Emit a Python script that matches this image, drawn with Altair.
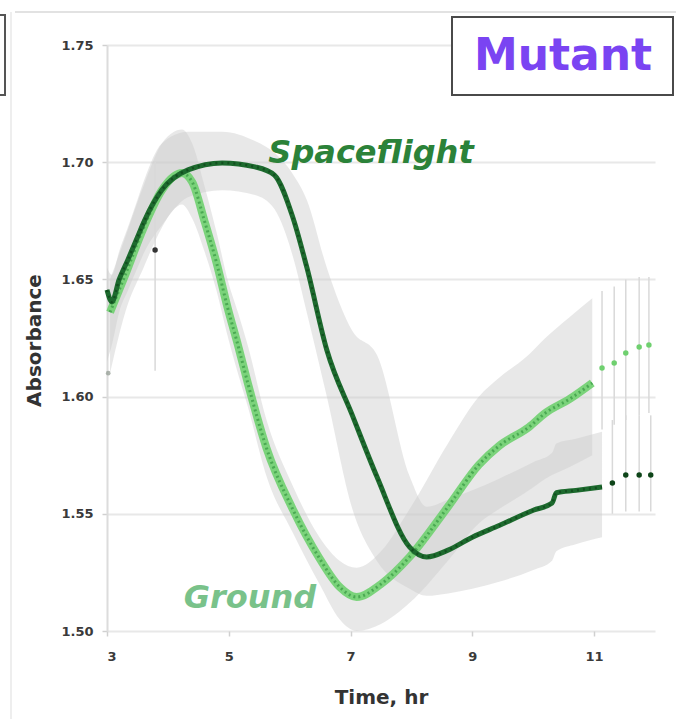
import altair as alt
import pandas as pd

# Spaceflight culture: time (hr), mean absorbance and the spread of replicates
sf_time = [3.00, 3.08, 3.20, 3.34, 3.50, 3.62, 3.90, 4.33, 4.89, 5.43, 5.75, 6.05, 6.28,
           6.61, 7.03, 7.43, 7.97, 8.25, 8.60, 9.00, 9.44, 10.00, 10.31, 10.38, 10.70, 11.13]
sf_mean = [1.6455, 1.6404, 1.650, 1.6582, 1.668, 1.6753, 1.6881, 1.6967, 1.6997, 1.698, 1.6945,
           1.6766, 1.6553, 1.6199, 1.592, 1.566, 1.5358, 1.5316, 1.5345, 1.540, 1.545, 1.5515,
           1.5546, 1.559, 1.560, 1.5614]
sf_hi = [1.655, 1.652, 1.662, 1.672, 1.684, 1.693, 1.708, 1.713, 1.713, 1.709, 1.704, 1.695, 1.684,
         1.655, 1.628, 1.618, 1.566, 1.553, 1.556, 1.560, 1.565, 1.572, 1.576, 1.580, 1.582, 1.585]
sf_lo = [1.615, 1.622, 1.636, 1.645, 1.655, 1.662, 1.673, 1.685, 1.688, 1.686, 1.680, 1.660, 1.636,
         1.600, 1.552, 1.530, 1.518, 1.515, 1.516, 1.518, 1.521, 1.526, 1.530, 1.534, 1.537, 1.540]

# Late spaceflight readings (sparse) with their error bars
sf_tail_time = [11.30, 11.52, 11.74, 11.93]
sf_tail_mean = [1.5631, 1.5666, 1.5666, 1.5666]
sf_tail_lo = [1.550, 1.551, 1.551, 1.551]
sf_tail_hi = [1.590, 1.592, 1.592, 1.592]

# Single off-curve spaceflight reading
sf_odd_time = [3.79]
sf_odd_mean = [1.6625]
sf_odd_lo = [1.611]
sf_odd_hi = [1.700]

# Ground culture
gr_time = [3.05, 3.30, 3.60, 3.90, 4.10, 4.23, 4.40, 4.60, 4.80, 4.98, 5.15, 5.31, 5.62,
           6.05, 6.49, 6.82, 7.10, 7.50, 7.97, 8.60, 9.11, 9.44, 9.93, 10.20, 10.60, 10.97]
gr_mean = [1.636, 1.652, 1.672, 1.688, 1.694, 1.6954, 1.6915, 1.675, 1.657, 1.638, 1.622, 1.606,
           1.578, 1.552, 1.531, 1.5188, 1.5145, 1.520, 1.5316, 1.553, 1.571, 1.579, 1.587,
           1.593, 1.599, 1.6058]
gr_hi = [1.650, 1.668, 1.690, 1.708, 1.713, 1.714, 1.708, 1.690, 1.670, 1.650, 1.636, 1.622, 1.590,
         1.562, 1.540, 1.530, 1.527, 1.534, 1.552, 1.580, 1.600, 1.608, 1.618, 1.625, 1.634, 1.642]
gr_lo = [1.610, 1.636, 1.655, 1.672, 1.680, 1.682, 1.676, 1.662, 1.645, 1.626, 1.610, 1.596, 1.566,
         1.542, 1.520, 1.505, 1.500, 1.503, 1.512, 1.530, 1.546, 1.552, 1.560, 1.565, 1.570, 1.575]

gr_tail_time = [11.13, 11.33, 11.52, 11.74, 11.90]
gr_tail_mean = [1.6122, 1.6143, 1.6186, 1.6212, 1.6220]
gr_tail_lo = [1.586, 1.588, 1.590, 1.592, 1.593]
gr_tail_hi = [1.645, 1.647, 1.650, 1.651, 1.651]

gr_first_time = [3.02]
gr_first_mean = [1.610]

x_ticks = [3, 5, 7, 9, 11]
y_ticks = [1.50, 1.55, 1.60, 1.65, 1.70, 1.75]

series_labels = ["Spaceflight", "Ground"]
panel_label = "Mutant"

DARK = "#1d6a2e"
DARK_DOT = "#0e4519"
LIGHT = "#6fd06f"
LIGHT_DOT = "#3f9f49"
BAND = "#cccccc"
FONT = "DejaVu Sans"


def frame(t, m, lo=None, hi=None):
    d = {"t": t, "m": m}
    if lo is not None:
        d["lo"] = lo
        d["hi"] = hi
    return pd.DataFrame(d)


sf = frame(sf_time, sf_mean, sf_lo, sf_hi)
gr = frame(gr_time, gr_mean, gr_lo, gr_hi)
sf_tail = frame(sf_tail_time, sf_tail_mean, sf_tail_lo, sf_tail_hi)
gr_tail = frame(gr_tail_time, gr_tail_mean, gr_tail_lo, gr_tail_hi)
sf_odd = frame(sf_odd_time, sf_odd_mean, sf_odd_lo, sf_odd_hi)
gr_first = frame(gr_first_time, gr_first_mean)

x_enc = alt.X("t:Q", scale=alt.Scale(domain=[3, 12], nice=False, zero=False),
              axis=alt.Axis(values=x_ticks, format="d", title="Time, hr", titleY=66,
                            titleBaseline="middle", grid=False))
y_enc = alt.Y("m:Q", scale=alt.Scale(domain=[1.50, 1.75], nice=False, zero=False),
              axis=alt.Axis(values=y_ticks, format=".2f", title="Absorbance",
                            titleX=-73, titleY=295, titleAlign="center",
                            titleBaseline="middle", titleAngle=-90))

# Replicate spread
sf_band = alt.Chart(sf).mark_area(color=BAND, opacity=0.45, interpolate="monotone").encode(
    x=x_enc, y=alt.Y("lo:Q"), y2="hi:Q")
gr_band = alt.Chart(gr).mark_area(color=BAND, opacity=0.45, interpolate="monotone").encode(
    x="t:Q", y="lo:Q", y2="hi:Q")

# Error bars on the sparse readings
bars = alt.layer(
    *[alt.Chart(d).mark_rule(color="#d9d9d9", strokeWidth=1.5).encode(x="t:Q", y="lo:Q", y2="hi:Q")
      for d in (sf_tail, gr_tail, sf_odd)]
)

# Ground curve: wide pale stroke with a darker dotted core
gr_line = alt.Chart(gr).mark_line(color=LIGHT, strokeWidth=8, opacity=0.9,
                                  interpolate="monotone").encode(x="t:Q", y=y_enc)
gr_dots = alt.Chart(gr).mark_line(color=LIGHT_DOT, strokeWidth=3, strokeDash=[2, 3],
                                  opacity=0.8, interpolate="monotone").encode(x="t:Q", y="m:Q")
gr_pts = alt.Chart(gr_tail).mark_circle(color=LIGHT, size=30, opacity=1).encode(x="t:Q", y="m:Q")
gr_first_pt = alt.Chart(gr_first).mark_circle(color="#9aa39a", size=22, opacity=0.8).encode(
    x="t:Q", y="m:Q")

# Spaceflight curve
sf_line = alt.Chart(sf).mark_line(color=DARK, strokeWidth=5, interpolate="monotone").encode(
    x="t:Q", y="m:Q")
sf_dots = alt.Chart(sf).mark_line(color=DARK_DOT, strokeWidth=2.5, strokeDash=[2, 4],
                                  opacity=0.7, interpolate="monotone").encode(x="t:Q", y="m:Q")
sf_pts = alt.Chart(sf_tail).mark_circle(color=DARK_DOT, size=30, opacity=1).encode(
    x="t:Q", y="m:Q")
sf_odd_pt = alt.Chart(sf_odd).mark_circle(color="#333333", size=30, opacity=1).encode(
    x="t:Q", y="m:Q")

# Series names written beside the curves
lab = pd.DataFrame({"label": series_labels})
sf_text = alt.Chart(lab).transform_filter(alt.datum.label == series_labels[0]).mark_text(
    font=FONT, fontSize=32, fontWeight="bold", fontStyle="italic", color="#2b8239",
    align="center", baseline="middle").encode(text="label:N", x=alt.value(264), y=alt.value(108))
gr_text = alt.Chart(lab).transform_filter(alt.datum.label == series_labels[1]).mark_text(
    font=FONT, fontSize=32, fontWeight="bold", fontStyle="italic", color="#79c28a",
    align="center", baseline="middle").encode(text="label:N", x=alt.value(143), y=alt.value(553))

# Panel tag in a framed box
tag = pd.DataFrame({"label": [panel_label]})
tag_box = alt.Chart(tag).mark_rect(fill="white", stroke="#4a4a4a", strokeWidth=2).encode(
    x=alt.value(345), x2=alt.value(566), y=alt.value(-28), y2=alt.value(50))
tag_text = alt.Chart(tag).mark_text(font=FONT, fontSize=44, fontWeight="bold", color="#7a44f2",
                                    align="center", baseline="middle").encode(
    text="label:N", x=alt.value(456), y=alt.value(12))

# Frame pieces at the panel edge
edge_box = alt.Chart(tag).mark_rect(fill="white", stroke="#555555", strokeWidth=2).encode(
    x=alt.value(-130), x2=alt.value(-102), y=alt.value(-30), y2=alt.value(50))
edge_top = alt.Chart(tag).mark_rule(color="#e2e2e2", strokeWidth=2).encode(
    x=alt.value(-92), x2=alt.value(569), y=alt.value(-33))
edge_left = alt.Chart(tag).mark_rule(color="#eeeeee", strokeWidth=2).encode(
    x=alt.value(-96), y=alt.value(-33), y2=alt.value(674))

chart = alt.layer(
    sf_band, gr_band, bars,
    gr_line, gr_dots, gr_pts, gr_first_pt,
    sf_line, sf_dots, sf_pts, sf_odd_pt,
    sf_text, gr_text,
    edge_top, edge_left, edge_box,
    tag_box, tag_text,
).properties(
    width=548, height=586,
    autosize=alt.AutoSizeParams(type="none"),
    padding={"left": 107, "top": 45, "right": 21, "bottom": 88},
    background="white",
).configure_view(stroke=None).configure_axis(
    labelFont=FONT, labelFontSize=13, labelFontWeight="bold", labelColor="#3a3a3a",
    titleFont=FONT, titleFontSize=20, titleFontWeight="bold", titleColor="#333333",
    gridColor="#e8e8e8", gridWidth=2, tickColor="#d0d0d0", tickSize=5, tickWidth=1.5,
    domain=False,
).configure_axisY(
    labelPadding=9, domain=True, domainColor="#dcdcdc", domainWidth=2,
).configure_axisX(
    labelPadding=14,
)

chart.save("out.html", embed_options={"renderer": "svg", "actions": False})
